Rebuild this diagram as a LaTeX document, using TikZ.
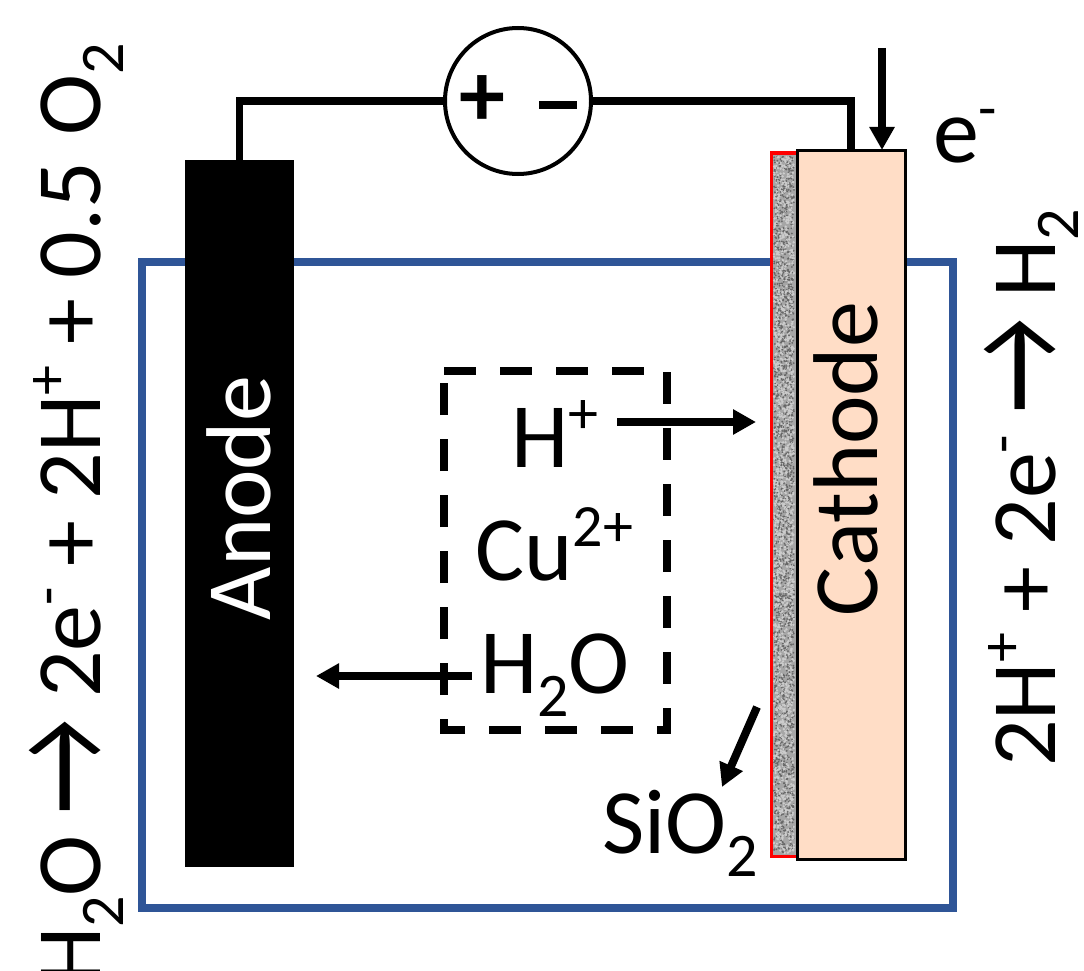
\documentclass[tikz,border=0pt]{standalone}
\usepackage{fontspec}
\setmainfont{Carlito}
\usetikzlibrary{arrows.meta}
\newcommand{\up}[1]{\raisebox{.36em}{\fontsize{60}{60}\selectfont #1}}
\newcommand{\dn}[1]{\raisebox{-.25em}{\fontsize{62}{62}\selectfont #1}}
\newcommand{\yields}{\raisebox{-5pt}{\scalebox{1.15}[1.45]{→}}}
\tikzset{
  label/.style   = {inner sep=0, font=\fontsize{92}{92}\selectfont},
  sidelabel/.style = {label, rotate=90, anchor=base west},
  wire/.style    = {line width=7.5},
  flow/.style    = {line width=8, -{Triangle[length=23,width=24]}}
}

\begin{document}
\begin{tikzpicture}[x=1pt, y=-1pt]
  \path [use as bounding box] (0,0) rectangle (1084,971);
  \draw [line width=7.5, color={rgb,255:red,47;green,85;blue,151}] (142,262) rectangle (953,908);

  \node (anode) [fill=black, minimum width=109, minimum height=707, inner sep=0] at (239.5,513.5) {};
  \node (silica) [draw=red, line width=3, fill=black!35, minimum width=26, minimum height=703, inner sep=0] at (784,504.5) {};
  \pgfmathsetseed{11}
  \foreach \i in {1,...,1800} {
    \fill [black!60] ({774+20*rnd},{156+697*rnd}) circle (1);
    \fill [white!80!black] ({774+20*rnd},{156+697*rnd}) circle (1.3);
  }
  \node (cathode) [draw=black, line width=3, fill={rgb,255:red,255;green,221;blue,198}, minimum width=108, minimum height=708, inner sep=0] at (851,505) {};
  \node (source) [draw=black, line width=4, fill=white, circle, minimum size=146, inner sep=0] at (518,101) {};
  \node at (518,101) [inner sep=0, font=\fontsize{92}{92}\selectfont\bfseries] (sign) {+\hspace{34pt}\rule[17pt]{38pt}{8pt}};

  \draw [wire] (source.west) -| (anode.north);
  \draw [wire] (source.east) -| (cathode.north);

  \draw [line width=8, dash pattern=on 32 off 24] (444,371) -- (667,371) -- (667,730) -- (444,730) -- cycle;

  \node (anodetext) [label, rotate=90, anchor=base, text=white] at (270,498) {Anode};
  \node (cathodetext) [label, rotate=90, anchor=base] at (877,459) {Cathode};
  \node (hplus) [label, anchor=base west] at (511,467) {H\up{+}};
  \node (copper) [label, anchor=base west] at (475,580) {Cu\up{2+}};
  \node (water) [label, anchor=base west] at (480,693) {H\dn{2}O};
  \node (silicon) [label, anchor=base west] at (602,853) {SiO\dn{2}};
  \node (electron) [label, anchor=base west] at (933,162) {e\up{-}};
  \node (oxidation) [sidelabel] at (100,985) {H\dn{2}O \yields{} 2e\up{-} + 2H\up{+} + 0.5\hspace{6pt} O\dn{2}};
  \node (reduction) [sidelabel] at (1055,767) {2H\up{+} + 2e\up{-} \yields{} H\dn{2}};

  \coordinate (etop) at (882,48);
  \coordinate (ecath) at (882,150);
  \coordinate (hfrom) at (617,422);
  \coordinate (hto) at (756,422);
  \coordinate (wfrom) at (472,676);
  \coordinate (wto) at (316,676);
  \coordinate (sfrom) at (757,707);
  \coordinate (sto) at (722,787);
  \draw [flow] (etop) -- (ecath);
  \draw [flow] (hfrom) -- (hto);
  \draw [flow] (wfrom) -- (wto);
  \draw [flow] (sfrom) -- (sto);
\end{tikzpicture}
\end{document}
